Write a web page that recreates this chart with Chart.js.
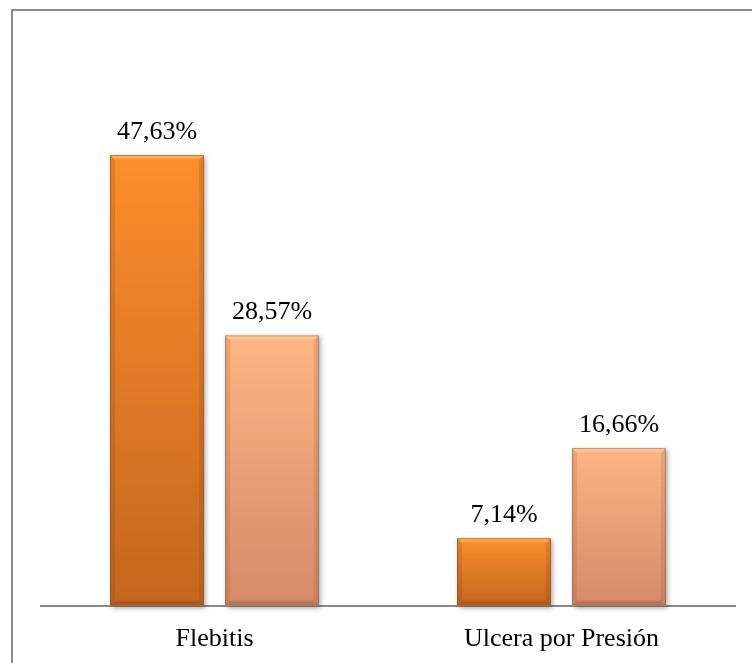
<!DOCTYPE html>
<html>
<head>
<meta charset="utf-8">
<script src="https://cdn.jsdelivr.net/npm/chart.js@4/dist/chart.umd.min.js"></script>
<style>
  html, body { margin: 0; padding: 0; background: #ffffff; }
  #wrap { position: relative; width: 752px; height: 663px; }
</style>
</head>
<body>
<div id="wrap"><canvas id="c" width="752" height="663"></canvas></div>
<script>
const categories = ['Flebitis', 'Ulcera por Presión'];
const seriesA = [47.63, 7.14];
const seriesB = [28.57, 16.66];
const yMin = 0;
const yMax = 60;

const fmt = v => v.toFixed(2).replace('.', ',') + '%';

const palettes = [
  { top: '#fc8e2c', bottom: '#c4661f', hi: '#fdc26a', side: 'rgba(120,60,10,0.18)', edge: '#8a4d1c' },
  { top: '#fdb584', bottom: '#d68a68', hi: '#fed4a6', side: 'rgba(120,70,40,0.15)', edge: '#8f5f48' }
];

function barGradient(ctx, dsIndex) {
  const chart = ctx.chart;
  const ys = chart.scales.y;
  if (!ys || !chart.chartArea || ctx.dataIndex === undefined) return palettes[dsIndex].top;
  const v = ctx.dataset.data[ctx.dataIndex];
  const top = ys.getPixelForValue(v);
  const base = ys.getPixelForValue(0);
  if (!isFinite(top) || !isFinite(base) || top === base) return palettes[dsIndex].top;
  const g = chart.ctx.createLinearGradient(0, top, 0, base);
  g.addColorStop(0, palettes[dsIndex].top);
  g.addColorStop(1, palettes[dsIndex].bottom);
  return g;
}

const framePlugin = {
  id: 'frame',
  beforeDraw(chart) {
    const c = chart.ctx;
    c.save();
    c.fillStyle = '#ffffff';
    c.fillRect(0, 0, chart.width, chart.height);
    c.strokeStyle = '#8c8c8c';
    c.lineWidth = 2;
    c.beginPath();
    c.moveTo(12, chart.height + 2);
    c.lineTo(12, 10);
    c.lineTo(chart.width + 2, 10);
    c.stroke();
    c.restore();
  },
  beforeDatasetsDraw(chart) {
    const c = chart.ctx;
    c.save();
    chart.data.datasets.forEach((ds, di) => {
      chart.getDatasetMeta(di).data.forEach(el => {
        const l = el.x - el.width / 2, t = el.y, h = el.base - el.y;
        c.shadowColor = 'rgba(0,0,0,0.35)';
        c.shadowBlur = 5;
        c.shadowOffsetX = 2;
        c.shadowOffsetY = 2;
        c.fillStyle = '#ffffff';
        c.fillRect(l, t, el.width, h);
      });
    });
    c.restore();
  },
  afterDatasetsDraw(chart) {
    const c = chart.ctx;
    c.save();
    chart.data.datasets.forEach((ds, di) => {
      const p = palettes[di];
      chart.getDatasetMeta(di).data.forEach((el, i) => {
        const l = el.x - el.width / 2, r = el.x + el.width / 2;
        const t = el.y, b = el.base;
        const bv = 5;
        const gt = c.createLinearGradient(0, t, 0, t + bv);
        gt.addColorStop(0, p.hi);
        gt.addColorStop(1, p.top);
        c.fillStyle = gt;
        c.beginPath();
        c.moveTo(l, t); c.lineTo(r, t); c.lineTo(r - bv, t + bv); c.lineTo(l + bv, t + bv); c.closePath();
        c.fill();
        c.fillStyle = p.side;
        c.beginPath();
        c.moveTo(l, t); c.lineTo(l + bv, t + bv); c.lineTo(l + bv, b - bv); c.lineTo(l, b); c.closePath();
        c.fill();
        c.beginPath();
        c.moveTo(r, t); c.lineTo(r - bv, t + bv); c.lineTo(r - bv, b - bv); c.lineTo(r, b); c.closePath();
        c.fill();
        c.fillStyle = 'rgba(90,40,10,0.22)';
        c.beginPath();
        c.moveTo(l, b); c.lineTo(l + bv, b - bv); c.lineTo(r - bv, b - bv); c.lineTo(r, b); c.closePath();
        c.fill();
        c.strokeStyle = p.edge;
        c.globalAlpha = 0.55;
        c.lineWidth = 1;
        c.strokeRect(l + 0.5, t + 0.5, el.width - 1, b - t - 1);
        c.globalAlpha = 1;
        c.fillStyle = '#000000';
        c.font = '26px "Liberation Serif", "Times New Roman", serif';
        c.textAlign = 'center';
        c.textBaseline = 'alphabetic';
        c.fillText(fmt(ds.data[i]), el.x, t - 16);
      });
    });
    c.restore();
  }
};

new Chart(document.getElementById('c'), {
  type: 'bar',
  data: {
    labels: categories,
    datasets: [
      { label: 'A', data: seriesA, backgroundColor: ctx => barGradient(ctx, 0), borderWidth: 0,
        categoryPercentage: 0.663, barPercentage: 0.817 },
      { label: 'B', data: seriesB, backgroundColor: ctx => barGradient(ctx, 1), borderWidth: 0,
        categoryPercentage: 0.663, barPercentage: 0.817 }
    ]
  },
  options: {
    responsive: false,
    animation: false,
    devicePixelRatio: 1,
    layout: { padding: { left: 41, right: 17, top: 38, bottom: -10 } },
    plugins: { legend: { display: false }, tooltip: { enabled: false } },
    scales: {
      x: {
        grid: { display: false, drawTicks: false },
        border: { display: true, color: '#8a8a8a', width: 2 },
        ticks: { color: '#000000', padding: 18,
          font: { family: '"Liberation Serif", "Times New Roman", serif', size: 26, lineHeight: 1.2 } }
      },
      y: { display: false, min: yMin, max: yMax }
    }
  },
  plugins: [framePlugin]
});
</script>
</body>
</html>
